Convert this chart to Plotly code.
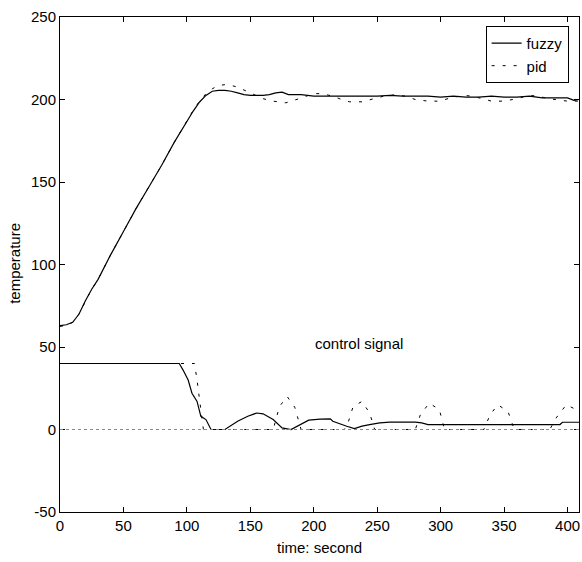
import plotly.graph_objects as go

# temperature curves
t_fuzzy = [0, 5, 10, 15, 20, 25, 30, 40, 50, 60, 70, 80, 90, 100, 105, 110, 115, 120, 125, 130, 135, 140, 145, 150,
           160, 165, 170, 175, 180, 190, 200, 210, 220, 230, 240, 250, 260, 270, 280, 290, 300, 310, 320, 330, 340,
           350, 360, 370, 380, 390, 400, 405, 409]
temp_fuzzy = [63, 63.5, 65, 70, 78, 85, 91, 106, 120, 134, 147, 160, 174, 187, 193, 198.5, 202.5, 205, 205.5, 205.5,
              205, 204, 203, 202.5, 202.5, 203, 204, 204.5, 203, 203, 202, 202, 202, 202, 202, 202, 202.5, 202, 202,
              202, 201.5, 202, 201.5, 201.5, 202, 201.5, 201.5, 202, 201, 201, 201, 199.5, 200]

t_pid = [0, 5, 10, 15, 20, 25, 30, 40, 50, 60, 70, 80, 90, 100, 105, 110, 115, 120, 125, 130, 135, 140, 148, 155,
         160, 168, 178, 188, 200, 207, 215, 222, 228, 238, 245, 255, 265, 272, 280, 290, 299, 308, 318, 325, 333,
         340, 350, 360, 370, 377, 385, 395, 400, 409]
temp_pid = [62.5, 63, 65, 70, 77.5, 85, 91, 106, 120, 134, 147, 160, 174, 187, 193.5, 199, 203.5, 206.5, 208.5, 209,
            208.5, 207.5, 204.6, 202, 200.5, 199, 198, 200.4, 203.6, 203.5, 202, 200, 198.6, 198.6, 200, 202, 203,
            202, 200, 199, 199, 201, 202.5, 202, 200.5, 199, 199, 200.5, 202.5, 202, 200.5, 199.5, 199, 199]

# control signals
t_u_fuzzy = [0, 94, 97, 101, 104, 108, 111, 115, 119, 130, 140, 148, 155, 160, 168, 175, 182, 189, 196, 205, 213,
             215, 220, 226, 232, 238, 244, 252, 260, 273, 280, 285, 290, 300, 310, 320, 330, 340, 350, 360, 370,
             380, 390, 394, 396, 400, 409]
u_fuzzy = [40, 40, 36, 30, 22, 17, 8, 6, 0, 0, 5, 8, 10, 9.5, 6, 1, 0, 3, 5.7, 6.3, 6.5, 5, 3.5, 2, 0.5, 2, 3, 4,
           4.5, 4.5, 4.5, 4, 3, 3, 3, 3, 3, 3, 3, 3, 3, 3, 3, 3, 4.4, 4.4, 4.4]

t_u_pid = [0, 106, 108, 110, 112, 113, 168, 173, 179, 185, 190, 224, 227, 231, 238, 244, 248, 280, 284, 291, 299,
           303, 334, 339, 345, 353, 358, 386, 391, 399, 407, 409]
u_pid = [40, 40, 30, 18, 6, 0, 0, 14, 20, 13.5, 0, 0, 4, 14, 17, 10, 0, 0, 9, 16, 12, 0, 0, 9, 15, 11, 0, 0, 7, 15,
         12, 11]

x_ticks = [0, 50, 100, 150, 200, 250, 300, 350, 400]
y_ticks = [-50, 0, 50, 100, 150, 200, 250]

FONT = "Arial, Liberation Sans, sans-serif"
FS = 15

fig = go.Figure()
fig.add_hline(y=0, line=dict(color="#888888", width=1, dash="dot"))
fig.add_trace(go.Scatter(x=t_fuzzy, y=temp_fuzzy, mode="lines", name="fuzzy",
                         line=dict(color="black", width=1.2)))
fig.add_trace(go.Scatter(x=t_pid, y=temp_pid, mode="lines", name="pid",
                         line=dict(color="black", width=1, dash="3px,8px")))
fig.add_trace(go.Scatter(x=t_u_fuzzy, y=u_fuzzy, mode="lines", showlegend=False,
                         line=dict(color="black", width=1.2)))
fig.add_trace(go.Scatter(x=t_u_pid, y=u_pid, mode="lines", showlegend=False,
                         line=dict(color="black", width=1, dash="3px,8px")))

fig.add_annotation(x=236, y=52, text="control signal", showarrow=False,
                   font=dict(family=FONT, size=FS, color="black"))
# axis titles
fig.add_annotation(xref="paper", yref="paper", x=0.5, y=-0.0727, yanchor="middle", text="time: second",
                   showarrow=False, font=dict(family=FONT, size=FS, color="black"))
fig.add_annotation(xref="paper", yref="paper", x=-0.088, y=0.502, xanchor="center", yanchor="middle",
                   text="temperature", textangle=-90, showarrow=False,
                   font=dict(family=FONT, size=FS, color="black"))

axis_common = dict(showline=True, linecolor="black", linewidth=1, mirror="ticks", ticks="inside",
                   ticklen=5, tickcolor="black", showgrid=False, zeroline=False, automargin=False,
                   tickfont=dict(family=FONT, size=FS, color="black"))

fig.update_xaxes(range=[0, 409], tickvals=x_ticks, ticktext=[str(v) for v in x_ticks], **axis_common)
fig.update_yaxes(range=[-50, 250], tickvals=y_ticks, ticktext=[str(v) for v in y_ticks], **axis_common)

fig.update_layout(
    width=582, height=562,
    margin=dict(l=60, r=3, t=17, b=50),
    plot_bgcolor="white", paper_bgcolor="white",
    legend=dict(x=0.98, y=0.982, xanchor="right", yanchor="top",
                bgcolor="white", bordercolor="black", borderwidth=1,
                font=dict(family=FONT, size=FS, color="black"),
                itemwidth=30, tracegroupgap=0),
    showlegend=True,
)

fig.write_html("out.html", config={"displayModeBar": False},
               post_script="document.body.style.margin='0';document.body.style.overflow='hidden';")
